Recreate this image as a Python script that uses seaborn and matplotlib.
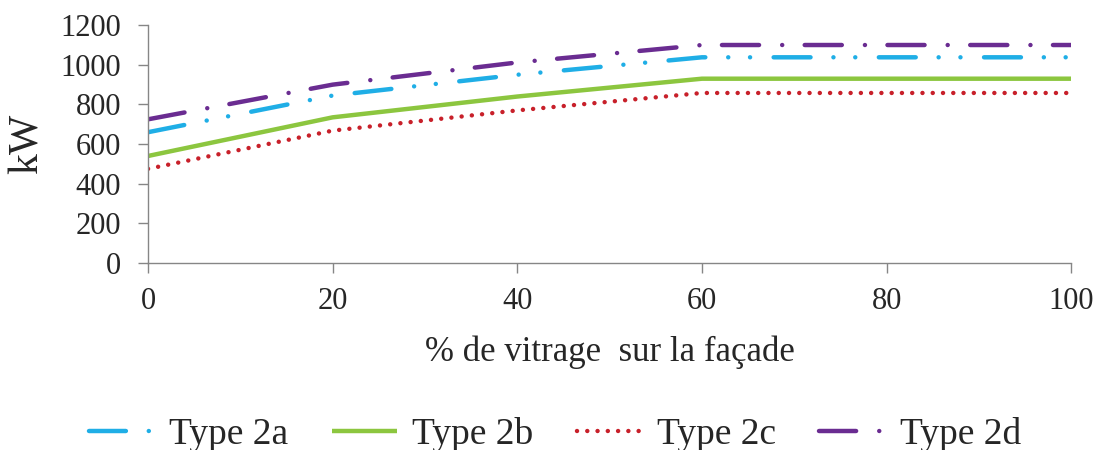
import pandas as pd
import matplotlib
matplotlib.use('Agg')
import matplotlib.pyplot as plt
import seaborn as sns

# Data
vitrage = [0, 20, 40, 60, 80, 100]
type_2a = [660, 845, 950, 1038, 1038, 1038]
type_2b = [540, 735, 840, 930, 930, 930]
type_2c = [475, 668, 770, 858, 858, 858]
type_2d = [725, 900, 1012, 1100, 1100, 1100]

series = ['Type 2a', 'Type 2b', 'Type 2c', 'Type 2d']
colors = ['#1FAEE6', '#8CC63F', '#C8202A', '#6A2C91']

rows = []
for name, vals in zip(series, [type_2a, type_2b, type_2c, type_2d]):
    for x, y in zip(vitrage, vals):
        rows.append({'vitrage': x, 'kW': y, 'type': name})
df = pd.DataFrame(rows)

sns.set_style('white')
plt.rcParams['font.family'] = ['Liberation Serif', 'DejaVu Serif']

fig = plt.figure(figsize=(10.99, 4.5), dpi=100)
ax = fig.add_axes([0.1347, 0.4156, 0.84, 0.5284])

# dash patterns in linewidth units (round caps add half a width at each end)
dashes = {
    'Type 2a': (8.3, 5.15, 0.01, 4.9, 0.01, 5.3),
    'Type 2b': '',
    'Type 2c': (0.01, 2.3),
    'Type 2d': (8.35, 5.2, 0.01, 5.06),
}
sns.lineplot(data=df, x='vitrage', y='kW', hue='type', style='type',
             palette=colors, dashes=dashes, linewidth=3.2, ax=ax, legend=True)

for line in ax.lines:
    line.set_dash_capstyle('round')
    line.set_solid_capstyle('butt')

ax.set_xlim(0, 100)
ax.set_ylim(0, 1200)
ax.set_xticks(vitrage)
ax.set_yticks(range(0, 1201, 200))
ax.set_xlabel('% de vitrage  sur la façade', fontsize=25, labelpad=14)
ax.set_ylabel('kW', fontsize=30, labelpad=10)

for s in ['top', 'right']:
    ax.spines[s].set_visible(False)
for s in ['left', 'bottom']:
    ax.spines[s].set_color('#868686')
    ax.spines[s].set_linewidth(1)
ax.tick_params(axis='both', labelsize=22, length=7.5, width=1, color='#868686',
               direction='out', left=True, bottom=True, pad=12)
ax.tick_params(axis='x', pad=10)

handles, labels = ax.get_legend_handles_labels()
ax.get_legend().remove()
for h in handles:
    h.set_linewidth(3.2)
    h.set_dash_capstyle('round')
fig.legend(handles, labels, loc='center', bbox_to_anchor=(0.505, 0.035),
           ncol=4, frameon=False, fontsize=27, handlelength=1.75,
           columnspacing=1.15, handletextpad=0.4)

fig.savefig('out.png', dpi=100)
